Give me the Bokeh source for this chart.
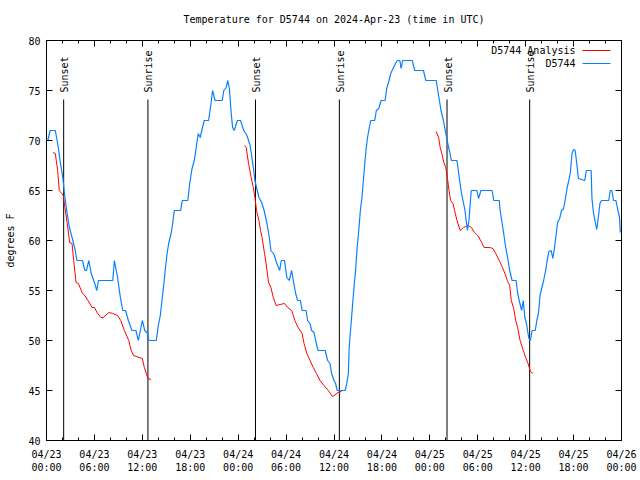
import math
from bokeh.plotting import figure
from bokeh.models import Range1d, LinearAxis, FixedTicker
from bokeh.core.properties import value
from bokeh.embed import file_html
from bokeh.resources import INLINE

# ---- data (hours since 2024-04-23 00:00 UTC, degrees F) ----
obs_hours = [0.17, 0.45, 1.1, 1.4, 1.75, 2.04, 2.25, 2.58, 2.87, 3.3, 3.6, 3.8, 4.5, 4.8, 5.0, 5.3, 5.6, 6.0, 6.3, 6.5,
             8.3, 8.5, 8.9, 9.25, 9.55, 9.9, 10.25, 10.7, 11.2, 11.5, 12.0, 12.3, 12.7, 12.8, 13.75, 14.0, 14.25, 14.5,
             14.7, 14.9, 15.1, 15.3, 15.6, 15.8, 16.0, 16.8, 17.0, 17.7, 17.9, 18.2, 18.5, 18.75, 19.0, 19.25, 19.5,
             19.75, 20.3, 20.6, 20.8, 21.1, 22.0, 22.2, 22.5, 22.7, 22.9, 23.1, 23.3, 23.5, 23.9, 24.3, 24.7, 25.1,
             25.5, 25.9, 26.1, 26.3, 26.6, 26.95, 27.25, 27.6, 27.9, 28.1, 28.5, 28.8, 29.2, 29.4, 29.8, 30.1, 30.4,
             30.7, 30.9, 31.2, 31.45, 31.8, 32.0, 32.5, 32.7, 33.0, 33.2, 33.5, 33.7, 34.0, 34.9, 35.2, 35.5, 35.7,
             36.0, 36.2, 36.4, 37.4, 37.6, 37.8, 37.9, 38.1, 38.3, 38.5, 38.7, 38.9, 39.1, 39.3, 39.5, 39.75, 40.0,
             40.2, 40.4, 40.6, 41.1, 41.3, 41.6, 41.9, 42.4, 42.6, 42.9, 43.1, 43.4, 43.7, 43.95, 44.25, 44.4, 44.6,
             45.8, 46.1, 47.2, 47.5, 48.8, 49.0, 49.2, 49.4, 49.7, 50.0, 50.3, 50.5, 50.7, 51.4, 51.7, 51.95, 52.2,
             52.4, 52.6, 52.7, 52.9, 53.1, 53.2, 53.9, 54.1, 54.4, 55.8, 56.0, 56.7, 56.8, 57.0, 57.25, 57.5, 57.8,
             58.0, 58.3, 58.8, 59.0, 59.25, 59.5, 59.7, 59.9, 60.1, 60.4, 60.6, 60.8, 61.2, 61.4, 61.6, 61.8, 62.0,
             62.25, 62.5, 62.7, 62.9, 63.2, 63.4, 63.6, 63.8, 64.0, 64.25, 64.5, 64.75, 65.0, 65.2, 65.4, 65.6, 65.8,
             66.0, 66.2, 66.4, 66.6, 67.4, 67.6, 68.2, 68.3, 68.5, 68.75, 68.9, 69.1, 69.3, 69.5, 70.4, 70.6, 70.8,
             71.0, 71.3, 71.5, 71.75, 71.85]
obs_temps = [70, 71, 71, 69.7, 67.7, 66.3, 64.7, 62.7, 61.3, 60, 59, 58, 58, 57, 57, 58, 56.7, 55.8, 55, 56,
             56, 58, 56.3, 54.3, 53, 53, 52, 51, 51, 50, 52, 51, 50.7, 50, 50, 51.5, 52.5, 54.3,
             55.7, 57.3, 58.7, 59.7, 60.7, 61.7, 63, 63, 64, 64, 65.5, 67.1, 68, 69.3, 70.7, 70.3, 71.2,
             72, 72, 73.7, 75, 74, 74, 75, 75.3, 76, 75.2, 73, 71.3, 71, 72, 72, 71, 70.5,
             69.5, 67.3, 66, 65.3, 64.3, 63.8, 63, 61.7, 60.3, 59, 58.6, 57.8, 57, 58, 58, 56.3, 56,
             57, 56, 54.7, 54, 54, 53, 53, 52, 51.7, 51, 50.8, 50, 49, 49, 48, 47.7, 46.7,
             46, 45.7, 45, 45, 45.7, 46.7, 49.3, 51.3, 53.3, 55.3, 57, 59.3, 61, 63, 64.3, 66.7, 69,
             70.3, 71.2, 72, 72, 73, 73.2, 74, 74, 75.2, 76, 76.7, 77.2, 77.7, 78, 78, 77.2, 78,
             78, 77, 77, 76, 76, 75, 74, 73, 72, 70.7, 69.5, 68.8, 68, 68, 66.2, 64.8, 63.8,
             63, 61.7, 61, 62, 64.2, 65, 65, 64.2, 65, 65, 64, 64, 63, 62, 60.7, 59.3, 58,
             57, 56, 56, 54.7, 53.8, 53, 54, 52.3, 51.7, 50.2, 50, 51, 51, 52, 52.7, 54.5, 55.2,
             56, 57, 58, 58.9, 59, 58.2, 59.2, 60.5, 61.8, 62.2, 63, 63.2, 64.3, 65.3, 66, 66.8, 68.7,
             69.1, 69, 67.7, 66.2, 66, 67, 67, 64.2, 62.7, 61.7, 61.1, 62.3, 63.7, 64, 64, 65, 65,
             64, 64, 63.2, 62.3, 60.8]

ana1_hours = [0.8, 1.1, 1.4, 1.6, 1.9, 2.1, 2.3, 2.6, 2.9, 3.2, 3.4, 3.7, 4.0, 4.5, 4.8, 5.2, 5.7, 6.0, 6.4, 6.8,
              7.1, 7.8, 8.3, 8.9, 9.3, 9.75, 10.3, 10.6, 10.9, 11.6, 12.0, 12.25, 12.7, 13.1]
ana1_temps = [68.8, 68.7, 67, 65, 64.7, 64.5, 63.3, 61.7, 59.8, 59.7, 58, 55.8, 55.7, 54.7, 54.5, 54, 53.3, 53.3,
              52.7, 52.3, 52.3, 52.8, 52.7, 52.5, 52, 51, 50, 49, 48.5, 48.3, 48.2, 47.3, 46.2, 46.1]
ana2_hours = [24.8, 25.0, 25.3, 25.6, 25.9, 26.1, 26.3, 26.6, 26.8, 27.0, 27.3, 27.5, 27.8, 28.1, 28.4, 28.75,
              29.25, 29.8, 30.2, 30.7, 31.1, 31.5, 32.0, 32.25, 32.6, 33.0, 33.4, 33.8, 34.25, 34.75, 35.3, 35.8,
              36.0, 36.5, 36.95]
ana2_temps = [69.5, 69.3, 67.7, 66.4, 65.3, 64.3, 63.0, 62, 61, 60.3, 58.7, 57.7, 55.8, 55.3, 54.3, 53.5,
              53.6, 53.7, 53.3, 53, 52, 51.3, 50.7, 49.7, 48.7, 48, 47.3, 46.7, 46, 45.5, 45, 44.4,
              44.5, 44.8, 44.9]
ana3_hours = [48.8, 49.1, 49.3, 49.5, 49.75, 50.0, 50.2, 50.4, 50.6, 50.9, 51.1, 51.4, 51.8, 52.2, 52.5, 52.8,
              53.2, 53.6, 54.0, 54.5, 54.8, 55.5, 55.9, 56.25, 56.75, 57.1, 57.4, 57.7, 58.0, 58.2, 58.5, 58.75,
              59.0, 59.3, 59.7, 60.0, 60.3, 60.6, 60.9]
ana3_temps = [70.9, 70.3, 69.3, 68.7, 67.8, 67.3, 66.3, 65, 64, 63.7, 63, 62, 61, 61.3, 61.4, 61.5,
              61.3, 60.8, 60.5, 59.8, 59.3, 59.3, 59.2, 58.7, 57.9, 57.3, 56.7, 56, 55.5, 54, 53.2, 52,
              51.3, 50, 49, 48.3, 47.7, 46.9, 46.7]

sun_events = ["Sunset", "Sunrise", "Sunset", "Sunrise", "Sunset", "Sunrise"]
sun_hours = [2.15, 12.7, 26.17, 36.67, 50.15, 60.5]

x_tick_hours = [0, 6, 12, 18, 24, 30, 36, 42, 48, 54, 60, 66, 72]
x_tick_labels = ["04/23\n00:00", "04/23\n06:00", "04/23\n12:00", "04/23\n18:00", "04/24\n00:00",
                 "04/24\n06:00", "04/24\n12:00", "04/24\n18:00", "04/25\n00:00", "04/25\n06:00",
                 "04/25\n12:00", "04/25\n18:00", "04/26\n00:00"]
x_minor_hours = list(range(0, 73, 2))
y_ticks = [40, 45, 50, 55, 60, 65, 70, 75, 80]

legend_labels = ["D5744 Analysis", "D5744"]

X_MIN, X_MAX = 0, 72
Y_MIN, Y_MAX = 40, 80
SUN_LINE_TOP = Y_MIN + 0.8525 * (Y_MAX - Y_MIN)

FONT = "DejaVu Sans Mono"
FS = "10px"
RED = "#ff0000"
BLUE = "#0a80ff"

W, H = 640, 480
BL, BR, BT, BB = 46, 19, 40, 40
FRAME_W, FRAME_H = W - BL - BR, H - BT - BB
PX_H = FRAME_W / (X_MAX - X_MIN)   # pixels per hour
PX_D = FRAME_H / (Y_MAX - Y_MIN)   # pixels per degree

p = figure(width=W, height=H, output_backend="svg", toolbar_location=None,
           x_range=Range1d(X_MIN, X_MAX), y_range=Range1d(Y_MIN, Y_MAX),
           min_border_left=BL, min_border_right=BR, min_border_top=BT, min_border_bottom=BB,
           title="Temperature for D5744 on 2024-Apr-23 (time in UTC)")
p.title.align = "center"
p.title.vertical_align = "top"
p.title.text_font = FONT
p.title.text_font_size = FS
p.title.text_font_style = "normal"
p.title.text_color = "black"
p.title.standoff = 27
p.xgrid.visible = False
p.ygrid.visible = False
p.outline_line_color = "black"
p.outline_line_alpha = 1
p.background_fill_color = "white"
p.border_fill_color = "white"

def style_axis(ax, labels=True):
    ax.axis_line_color = "black"
    ax.major_tick_line_color = "black"
    ax.minor_tick_line_color = "black"
    ax.major_tick_in = 6
    ax.major_tick_out = 0
    ax.minor_tick_in = 3
    ax.minor_tick_out = 0
    ax.major_label_text_font = FONT
    ax.major_label_text_font_size = FS if labels else "0px"
    ax.major_label_text_color = "black"
    if not labels:
        ax.major_label_standoff = 0

xa = p.xaxis[0]
xa.ticker = FixedTicker(ticks=x_tick_hours, minor_ticks=x_minor_hours)
xa.major_label_overrides = {h: lab for h, lab in zip(x_tick_hours, x_tick_labels)}
style_axis(xa)
xa.major_label_standoff = 8

ya = p.yaxis[0]
ya.ticker = FixedTicker(ticks=y_ticks, minor_ticks=[])
style_axis(ya)
ya.major_label_standoff = 6
ya.axis_label = "degrees F"
ya.axis_label_text_font = FONT
ya.axis_label_text_font_size = FS
ya.axis_label_text_font_style = "normal"
ya.axis_label_text_color = "black"
ya.axis_label_standoff = 9

top = LinearAxis(ticker=FixedTicker(ticks=x_tick_hours, minor_ticks=x_minor_hours))
style_axis(top, labels=False)
top.major_label_overrides = {h: "" for h in x_tick_hours}
p.add_layout(top, "above")
right = LinearAxis(ticker=FixedTicker(ticks=y_ticks, minor_ticks=[]))
style_axis(right, labels=False)
right.major_label_overrides = {t: "" for t in y_ticks}
p.add_layout(right, "right")

# sunrise / sunset markers
n = len(sun_hours)
p.segment(x0=sun_hours, y0=[Y_MIN] * n, x1=sun_hours, y1=[SUN_LINE_TOP] * n,
          line_color="black", line_width=1)
p.text(x=sun_hours, y=[SUN_LINE_TOP] * n, text=sun_events, angle=math.pi / 2,
       text_align="left", text_baseline="middle", y_offset=-7, x_offset=1,
       text_font=value(FONT), text_font_size=FS, text_color="black")

# series
for hs, ts in ((ana1_hours, ana1_temps), (ana2_hours, ana2_temps), (ana3_hours, ana3_temps)):
    p.line(hs, ts, line_color=RED, line_width=1)
p.line(obs_hours, obs_temps, line_color=BLUE, line_width=1.2)

# legend in gnuplot style (text, then line sample), positioned in pixels from the top-right corner
leg_colors = [RED, BLUE]
text_x = X_MAX - 46 / PX_H
s_x0 = X_MAX - 39 / PX_H
s_x1 = X_MAX - 11 / PX_H
rows_y = [Y_MAX - (10 + 13 * i) / PX_D for i in range(len(legend_labels))]
p.text(x=[text_x] * len(legend_labels), y=rows_y, text=legend_labels, text_align="right",
       text_baseline="middle", text_font=value(FONT), text_font_size=FS, text_color="black")
p.segment(x0=[s_x0] * len(legend_labels), y0=rows_y, x1=[s_x1] * len(legend_labels), y1=rows_y,
          line_color=leg_colors, line_width=1)

open("out.html", "w").write(file_html(p, INLINE))
